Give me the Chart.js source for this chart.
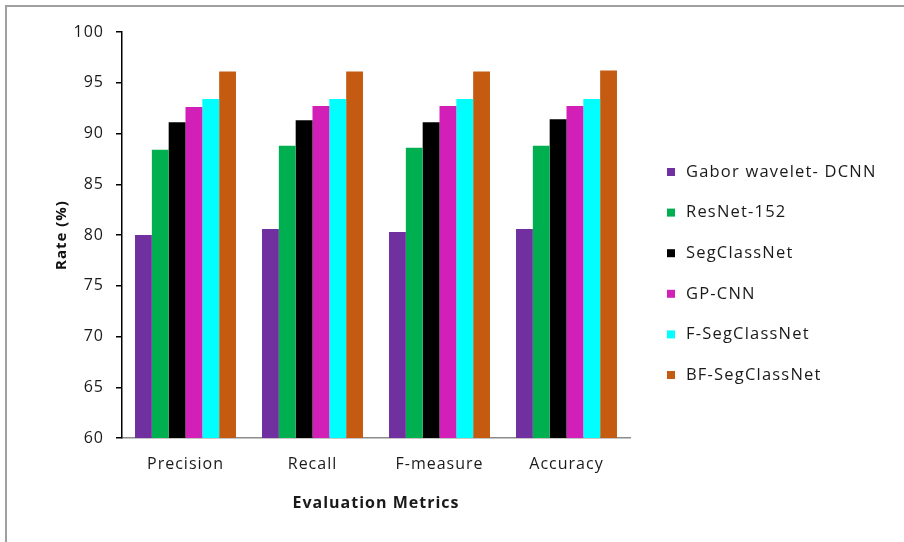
<!DOCTYPE html>
<html><head><meta charset="utf-8">
<script src="https://cdn.jsdelivr.net/npm/chart.js@4/dist/chart.umd.min.js"></script>
<style>html,body{margin:0;padding:0;background:#fff}#wrap{width:904px;height:542px;position:relative}</style>
</head><body><div id="wrap"><canvas id="c" width="904" height="542"></canvas></div>
<script>
const categories = ['Precision', 'Recall', 'F-measure', 'Accuracy'];
const seriesNames = ['Gabor wavelet- DCNN', 'ResNet-152', 'SegClassNet', 'GP-CNN', 'F-SegClassNet', 'BF-SegClassNet'];
const gaborDCNN = [80.0, 80.6, 80.3, 80.6];
const resNet152 = [88.4, 88.8, 88.6, 88.8];
const segClassNet = [91.1, 91.3, 91.1, 91.4];
const gpCNN = [92.6, 92.7, 92.7, 92.7];
const fSegClassNet = [93.4, 93.4, 93.4, 93.4];
const bfSegClassNet = [96.1, 96.1, 96.1, 96.2];
const yTicks = [60, 65, 70, 75, 80, 85, 90, 95, 100];
const yTitle = 'Rate (%)';
const xTitle = 'Evaluation Metrics';

const seriesValues = [gaborDCNN, resNet152, segClassNet, gpCNN, fSegClassNet, bfSegClassNet];
const colors = ['#7030A0', '#00B050', '#000000', '#D21FB8', '#00FFFF', '#C55A11'];
const FONT = "'Open Sans', 'Liberation Sans', sans-serif";
const TEXT = '#1a1a1a';

const frame = {
  id: 'frame',
  beforeDraw(chart) {
    const ctx = chart.ctx;
    ctx.save();
    ctx.fillStyle = '#fff';
    ctx.fillRect(0, 0, chart.width, chart.height);
    ctx.strokeStyle = '#a0a0a0';
    ctx.lineWidth = 2;
    ctx.beginPath();
    ctx.moveTo(6, chart.height);
    ctx.lineTo(6, 6);
    ctx.lineTo(chart.width, 6);
    ctx.stroke();
    ctx.restore();
    ctx.letterSpacing = '1px';
  },
  afterDraw(chart) {
    const ctx = chart.ctx;
    ctx.save();
    ctx.letterSpacing = '1.2px';
    ctx.font = '16.5px ' + FONT;
    ctx.textBaseline = 'middle';
    ctx.textAlign = 'left';
    chart.data.datasets.forEach((ds, i) => {
      const y = 172 + i * 40.6;
      ctx.fillStyle = ds.backgroundColor;
      ctx.fillRect(667, y - 4, 8, 8);
      ctx.fillStyle = TEXT;
      ctx.fillText(ds.label, 686, y);
    });
    ctx.restore();
  }
};

new Chart(document.getElementById('c'), {
  type: 'bar',
  data: {
    labels: categories,
    datasets: seriesNames.map((n, i) => ({
      label: n,
      data: seriesValues[i],
      backgroundColor: colors[i],
      borderWidth: 0,
      categoryPercentage: 0.795,
      barPercentage: 1.0
    }))
  },
  options: {
    responsive: false,
    animation: false,
    devicePixelRatio: 1,
    layout: { padding: { top: 32, right: 274, bottom: 0, left: 0 } },
    plugins: { legend: { display: false }, tooltip: { enabled: false } },
    scales: {
      x: {
        grid: { display: false, drawTicks: false },
        border: { color: '#8c8c8c', width: 1.5 },
        ticks: { color: TEXT, padding: 17, font: { family: FONT, size: 16 } },
        title: { display: true, text: xTitle, color: TEXT, font: { family: FONT, size: 16, weight: 'bold' }, padding: { top: 0, bottom: 29 } },
        afterFit(s) { s.height = 104; }
      },
      y: {
        min: 60, max: 100,
        afterBuildTicks(s) { s.ticks = yTicks.map(v => ({ value: v })); },
        grid: { drawOnChartArea: false, drawTicks: true, tickLength: 6, color: '#000', lineWidth: 1.5 },
        border: { color: '#000', width: 1.5 },
        ticks: { color: TEXT, padding: 12, font: { family: FONT, size: 16 } },
        title: { display: true, text: yTitle, color: '#111', font: { family: FONT, size: 15, weight: 'bold' }, padding: { top: 53, bottom: 0 } },
        afterFit(s) { s.width = 122; }
      }
    }
  },
  plugins: [frame]
});
</script>
</body></html>
